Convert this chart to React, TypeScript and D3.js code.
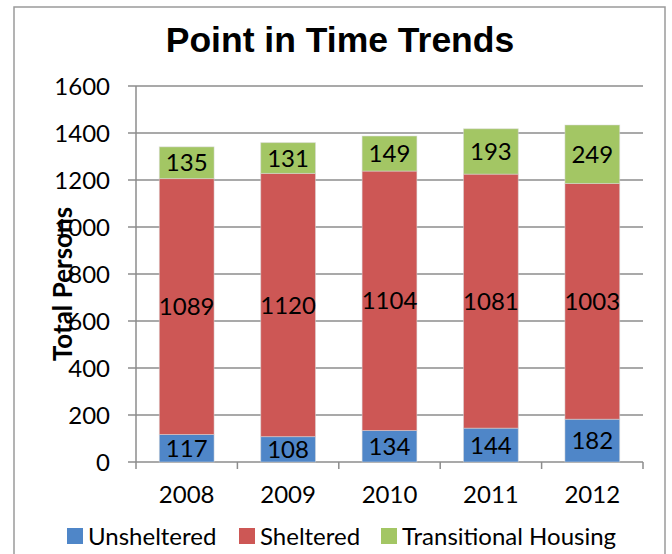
import React from "react";
import * as d3 from "d3";

const years = ["2008", "2009", "2010", "2011", "2012"];
const unsheltered = [117, 108, 134, 144, 182];
const sheltered = [1089, 1120, 1104, 1081, 1003];
const transitional = [135, 131, 149, 193, 249];
const seriesNames = ["Unsheltered", "Sheltered", "Transitional Housing"];
const seriesColors = ["#4F86C8", "#CD5755", "#A3C664"];
const yTicks = [0, 200, 400, 600, 800, 1000, 1200, 1400, 1600];

const W = 672;
const H = 554;
const FONT = "Lato, 'Open Sans', sans-serif";

export default function App() {
  const left = 136;
  const right = 643;
  const top = 86;
  const bottom = 462;

  const x = d3.scaleBand<string>().domain(years).range([left, right]).paddingInner(0.46).paddingOuter(0.23);
  const xOuter = d3.scaleBand<string>().domain(years).range([left, right]);
  const y = d3.scaleLinear().domain([0, 1600]).range([bottom, top]);

  const rows = years.map((yr, i) => ({
    year: yr,
    Unsheltered: unsheltered[i],
    Sheltered: sheltered[i],
    "Transitional Housing": transitional[i],
  }));
  const stack = d3.stack<any>().keys(seriesNames);
  const layers = stack(rows);

  const legendItems = [
    { x: 67, name: seriesNames[0], color: seriesColors[0] },
    { x: 239, name: seriesNames[1], color: seriesColors[1] },
    { x: 381, name: seriesNames[2], color: seriesColors[2] },
  ];

  return (
    <svg width={W} height={H} style={{ position: "absolute", left: 0, top: 0, background: "#fff" }} fontFamily={FONT}>
      <rect x={14} y={7} width={651} height={600} fill="#fff" stroke="#9a9a9a" strokeWidth={1.5} />
      <text x={340} y={52} textAnchor="middle" fontSize={35.5} fontWeight="bold" fill="#000" fontFamily="'Liberation Sans', Arial, sans-serif">
        Point in Time Trends
      </text>

      {/* gridlines */}
      {yTicks.map((t) => (
        <line key={t} x1={128} x2={right} y1={y(t)} y2={y(t)} stroke="#8c8c8c" strokeWidth={1.5} />
      ))}
      {/* y axis */}
      <line x1={left} x2={left} y1={top} y2={bottom + 7} stroke="#8c8c8c" strokeWidth={1.5} />
      {/* x ticks */}
      {years.map((yr) => (
        <line key={yr} x1={(xOuter(yr) as number) + xOuter.bandwidth()} x2={(xOuter(yr) as number) + xOuter.bandwidth()} y1={bottom} y2={bottom + 7} stroke="#8c8c8c" strokeWidth={1.5} />
      ))}

      {/* y tick labels */}
      {yTicks.map((t) => (
        <text key={t} x={110} y={y(t)} dy="0.36em" textAnchor="end" fontSize={24} fill="#000">
          {t}
        </text>
      ))}

      {/* bars */}
      {layers.map((layer, li) => (
        <g key={layer.key}>
          {layer.map((d, i) => (
            <rect
              key={i}
              x={x(years[i])}
              y={y(d[1])}
              width={x.bandwidth()}
              height={y(d[0]) - y(d[1])}
              fill={seriesColors[li]}
              stroke="#d9d9d9"
              strokeOpacity={0.5}
              strokeWidth={1}
            />
          ))}
        </g>
      ))}
      {/* data labels */}
      {layers.map((layer) => (
        <g key={layer.key + "l"}>
          {layer.map((d, i) => (
            <text
              key={i}
              x={(x(years[i]) as number) + x.bandwidth() / 2}
              y={(y(d[0]) + y(d[1])) / 2}
              dy="0.36em"
              textAnchor="middle"
              fontSize={24}
              fill="#000"
            >
              {d[1] - d[0]}
            </text>
          ))}
        </g>
      ))}

      {/* x labels */}
      {years.map((yr) => (
        <text key={yr} x={(x(yr) as number) + x.bandwidth() / 2} y={503} textAnchor="middle" fontSize={24} fill="#000">
          {yr}
        </text>
      ))}

      {/* y axis title */}
      <text transform="translate(72,284) rotate(-90)" textAnchor="middle" fontSize={26} fontWeight="bold" fill="#000">
        Total Persons
      </text>

      {/* legend */}
      {legendItems.map((it) => (
        <g key={it.name}>
          <rect x={it.x} y={528} width={16} height={16} fill={it.color} />
          <text x={it.x + 21} y={536} dy="0.36em" fontSize={24} fill="#000">
            {it.name}
          </text>
        </g>
      ))}
    </svg>
  );
}
